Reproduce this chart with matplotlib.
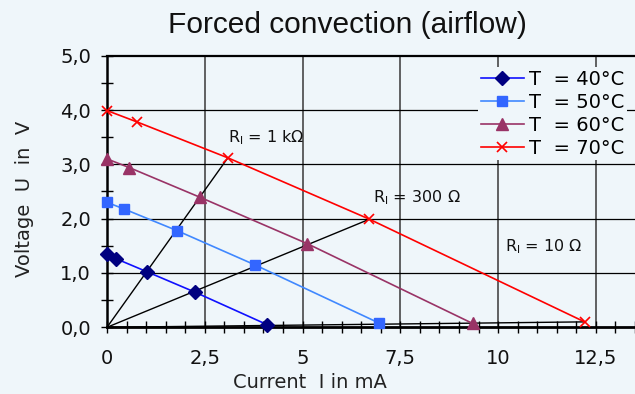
import matplotlib
matplotlib.use("Agg")
import matplotlib.pyplot as plt
from matplotlib.ticker import MultipleLocator, FuncFormatter

# Data (current in mA, voltage in V)
I_40 = [0.0, 0.24, 1.03, 2.24, 4.09]
U_40 = [1.35, 1.26, 1.02, 0.65, 0.05]
I_50 = [0.0, 0.43, 1.79, 3.78, 6.95]
U_50 = [2.30, 2.18, 1.78, 1.15, 0.08]
I_60 = [0.0, 0.57, 2.39, 5.12, 9.35]
U_60 = [3.10, 2.94, 2.39, 1.54, 0.07]
I_70 = [0.0, 0.77, 3.09, 6.71, 12.21]
U_70 = [3.99, 3.78, 3.12, 1.99, 0.10]

labels = ["T  = 40°C", "T  = 50°C", "T  = 60°C", "T  = 70°C"]
load_labels = ["R$_\\mathregular{l}$ = 1 kΩ", "R$_\\mathregular{l}$ = 300 Ω", "R$_\\mathregular{l}$ = 10 Ω"]
load_label_pos = [(3.1, 3.49), (6.8, 2.39), (10.18, 1.49)]

bg = "#eff6fa"
W, H = 635, 394
fig = plt.figure(figsize=(6.35, 3.94), dpi=100, facecolor=bg)
ax = fig.add_axes([107/W, 1-327.3/H, 1-107/W, (327.3-55.7)/H])
ax.set_facecolor("none")
ax.set_xlim(0, 13.5)
ax.set_ylim(0, 5)

# grid
for x in [2.5, 5, 7.5, 10, 12.5]:
    ax.axvline(x, color="#555555", lw=1.3, zorder=1)
for y in [1, 2, 3, 4]:
    ax.axhline(y, color="black", lw=0.9, zorder=1)
ax.axhline(5, color="black", lw=1.6, zorder=1, clip_on=False)

# load lines from origin through each operating point
series = [(I_40, U_40), (I_50, U_50), (I_60, U_60), (I_70, U_70)]
for k in [2, 3, 4]:
    ax.plot([0.0, I_70[k]], [0.0, U_70[k]], color="black", lw=1.0, zorder=2)

styles = [
    dict(color="#1010ff", marker="D", mfc="#000080", mec="#000080", ms=7),
    dict(color="#4088ff", marker="s", mfc="#3366ff", mec="#3366ff", ms=6.5),
    dict(color="#993366", marker="^", mfc="#993366", mec="#993366", ms=8),
    dict(color="#ff0000", marker="x", mfc="#ff0000", mec="#ff0000", ms=7.5, mew=1.2),
]
handles = []
for (xs, ys), st, lab in zip(series, styles, labels):
    h, = ax.plot(xs, ys, lw=1.2, label=lab, zorder=3, clip_on=False, **st)
    handles.append(h)

for txt, (x, y) in zip(load_labels, load_label_pos):
    ax.text(x, y, txt, fontsize=11.5, va="center", ha="left", color="#111111")

# axes styling
for s in ["top", "right"]:
    ax.spines[s].set_visible(False)
ax.spines["left"].set_linewidth(1.8)
ax.spines["bottom"].set_linewidth(2.0)
ax.xaxis.set_minor_locator(MultipleLocator(0.5))
ax.yaxis.set_major_locator(MultipleLocator(1.0))
ax.yaxis.set_minor_locator(MultipleLocator(0.5))

def xfmt(v, p):
    if abs(v - round(v)) < 1e-9:
        return "%d" % round(v)
    return ("%.1f" % v).replace(".", ",")
ax.set_xticks([0, 2.5, 5, 7.5, 10, 12.5])
ax.xaxis.set_major_formatter(FuncFormatter(xfmt))
ax.yaxis.set_major_formatter(FuncFormatter(lambda v, p: ("%.1f" % v).replace(".", ",")))
ax.tick_params(axis="both", which="both", direction="inout", color="black", width=1.0)
ax.tick_params(axis="both", which="major", length=9, labelsize=14, labelcolor="#111111")
ax.tick_params(axis="x", which="major", pad=11)
ax.tick_params(axis="y", which="major", pad=7)
ax.tick_params(axis="both", which="minor", length=8)

fig.text(310/W, 1-383/H, "Current  I in mA", fontsize=14, ha="center", va="center", color="#222222")
fig.text(25/W, 1-199/H, "Voltage  U  in  V", fontsize=14, rotation=90, ha="center", va="center",
         color="#222222")
fig.text(347/W, 1-25/H, "Forced convection (airflow)", fontsize=21.5, ha="center", va="center",
         color="#111111", family="Liberation Sans")

leg = fig.legend(handles=handles, loc="upper right", bbox_to_anchor=(627/W, 1-67/H),
                 fontsize=14, frameon=True, facecolor=bg, edgecolor="none", framealpha=1.0,
                 handlelength=2.2, handletextpad=0.25, labelspacing=0.2, borderpad=0.15,
                 borderaxespad=0.0)
leg.set_zorder(5)

fig.savefig("out.png", dpi=100, facecolor=bg)
